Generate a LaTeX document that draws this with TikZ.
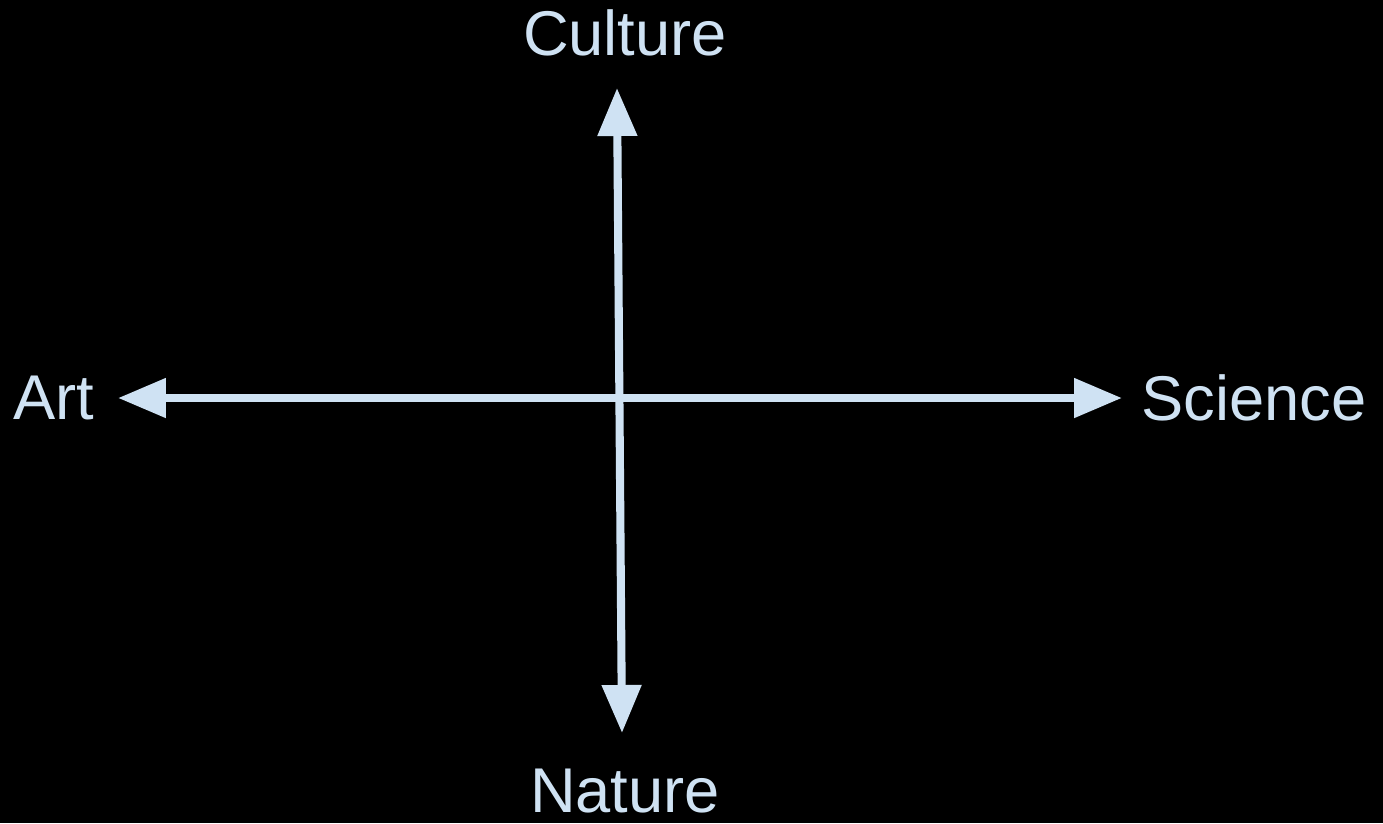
\documentclass[tikz,border=0pt]{standalone}
\usepackage{fontspec}
\setmainfont{Liberation Sans}
\usepackage{xcolor}
\usetikzlibrary{arrows.meta, positioning}

\definecolor{axisblue}{HTML}{CFE2F3}

\begin{document}
\begin{tikzpicture}[x=0.02cm, y=-0.02cm,
  axis/.style={draw=axisblue, line width=4.6pt,
    {Triangle[length=0.96cm, width=0.76cm]}-{Triangle[length=0.96cm, width=0.76cm]}},
  pole/.style={text=axisblue, inner sep=0pt, font=\fontsize{36}{42}\selectfont}]
% Background
\fill[black] (0,0) rectangle (1383,823);

% Labels
\node[pole] (culture) at (625, 33) {Culture};
\node[pole] (nature) at (625, 791) {Nature};
\node[pole] (art) at (54, 398) {Art};
\node[pole] (science) at (1254, 398) {Science};

% Axis ends
\coordinate (top) at (617, 88);
\coordinate (bottom) at (622, 733);
\coordinate (left) at (118, 398);
\coordinate (right) at (1122, 398);

% Axes
\draw[axis] (left) -- (right);
\draw[axis] (bottom) -- (top);

\end{tikzpicture}
\end{document}
